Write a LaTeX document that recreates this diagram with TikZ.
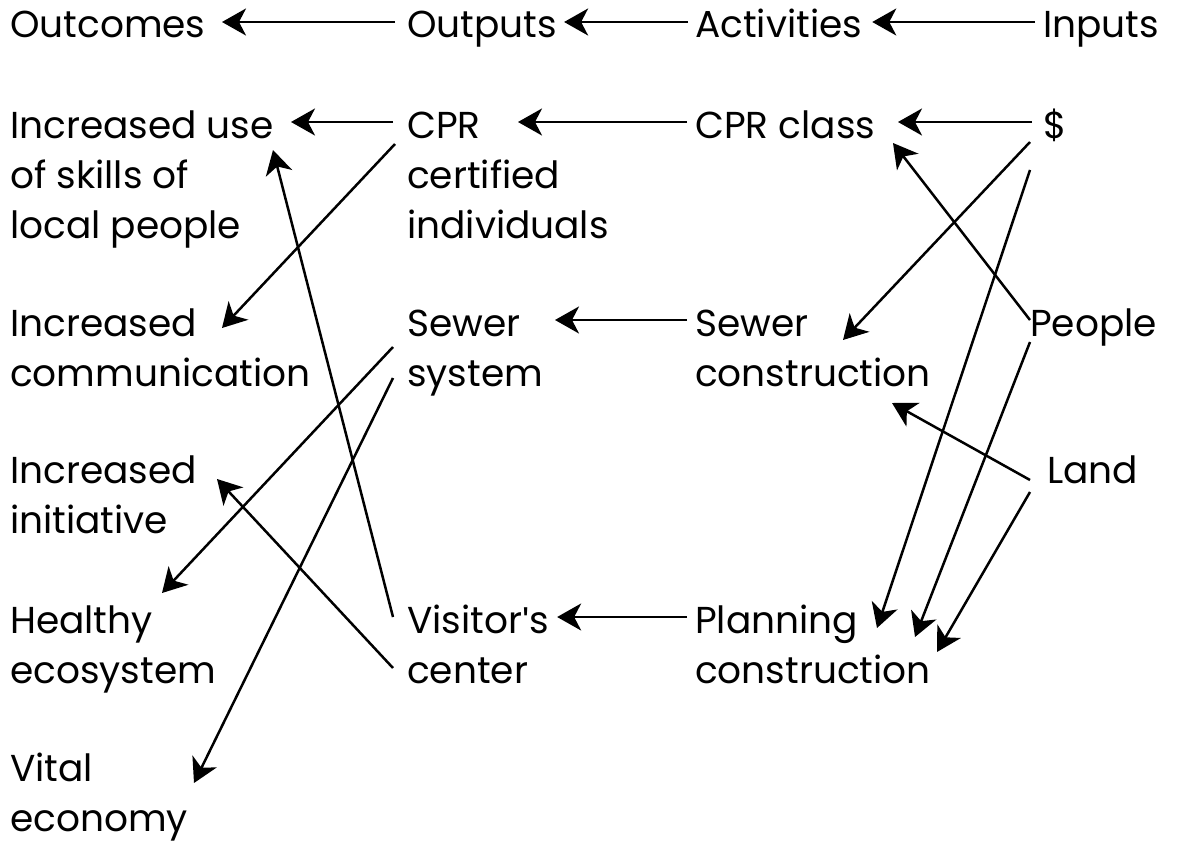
\documentclass[tikz,border=0pt]{standalone}
\usepackage{fontspec}
\setmainfont{Poppins}
\newfontfamily\quotefont{Liberation Sans}
\usetikzlibrary{arrows.meta}
\tikzset{
  lbl/.style={anchor=base west, inner sep=0pt, align=left, font=\fontsize{37.5}{50}\selectfont},
  arr/.style={line width=2.5pt, -{Stealth[length=24pt, width=27pt, inset=7pt]}}
}
\begin{document}
\begin{tikzpicture}[x=1pt, y=-1pt]
\useasboundingbox (0,0) rectangle (1181,843);
% labels (base west = baseline of the last line)
\node[lbl] (out)  at (10,38)   {Outcomes};
\node[lbl] (outp) at (407,38)  {Outputs};
\node[lbl] (act)  at (695,38)  {Activities};
\node[lbl] (inp)  at (1043,38) {Inputs};
\node[lbl] (o1) at (10,238)  {Increased use\\of skills of\\local people};
\node[lbl] (p1) at (407,238) {CPR\\certified\\individuals};
\node[lbl] (a1) at (695,138) {CPR class};
\node[lbl] (i1) at (1043,138) {\$};
\node[lbl] (o2) at (10,386)  {Increased\\communication};
\node[lbl] (p2) at (407,386) {Sewer\\system};
\node[lbl] (a2) at (695,386) {Sewer\\construction};
\node[lbl] (i2) at (1030,336) {People};
\node[lbl] (o3) at (10,533)  {Increased\\initiative};
\node[lbl] (i3) at (1047,483) {Land};
\node[lbl] (o4) at (10,683)  {Healthy\\ecosystem};
\node[lbl] (p4) at (407,683) {Visitor{\quotefont\symbol{"27}}s\\center};
\node[lbl] (a4) at (695,683) {Planning\\construction};
\node[lbl] (o5) at (10,831)  {Vital\\economy};
% header arrows
\draw[arr] ([shift={(-8,-16)}]inp.base west) -- ([shift={(10,-16)}]act.base east);
\draw[arr] ([shift={(-7,-16)}]act.base west) -- ([shift={(7,-16)}]outp.base east);
\draw[arr] ([shift={(-12,-16)}]outp.base west) -- ([shift={(212,-16)}]out.base west);
% row 1
\draw[arr] ([shift={(-11,-16)}]i1.base west) -- ([shift={(203,-16)}]a1.base west);
\draw[arr] ([shift={(-8,-16)}]a1.base west) -- ([shift={(111,-116)}]p1.base west);
\draw[arr] ([shift={(-14,-116)}]p1.base west) -- ([shift={(281,-116)}]o1.base west);
\draw[arr] ([shift={(-12,-94)}]p1.base west) -- ([shift={(212,-58)}]o2.base west);
% inputs diagonals
\draw[arr] ([shift={(-13,4)}]i1.base west) -- ([shift={(148,-46)}]a2.base west);
\draw[arr] ([shift={(-13,32)}]i1.base west) -- ([shift={(182,-55)}]a4.base west);
\draw[arr] ([shift={(0,-16)}]i2.base west) -- ([shift={(198,5)}]a1.base west);
\draw[arr] ([shift={(0,6)}]i2.base west) -- ([shift={(220,-46)}]a4.base west);
\draw[arr] ([shift={(-17,-3)}]i3.base west) -- ([shift={(197,17)}]a2.base west);
\draw[arr] ([shift={(-17,9)}]i3.base west) -- ([shift={(242,-31)}]a4.base west);
% row 2
\draw[arr] ([shift={(-8,-66)}]a2.base west) -- ([shift={(148,-66)}]p2.base west);
\draw[arr] ([shift={(-14,-39)}]p2.base west) -- ([shift={(152,-90)}]o4.base west);
\draw[arr] ([shift={(-14,-8)}]p2.base west) -- ([shift={(184,-48)}]o5.base west);
% row 4
\draw[arr] ([shift={(-8,-66)}]a4.base west) -- ([shift={(8,-66)}]p4.base east);
\draw[arr] ([shift={(-14,-66)}]p4.base west) -- ([shift={(263,-88)}]o1.base west);
\draw[arr] ([shift={(-14,-15)}]p4.base west) -- ([shift={(207,-54)}]o3.base west);
\end{tikzpicture}
\end{document}
